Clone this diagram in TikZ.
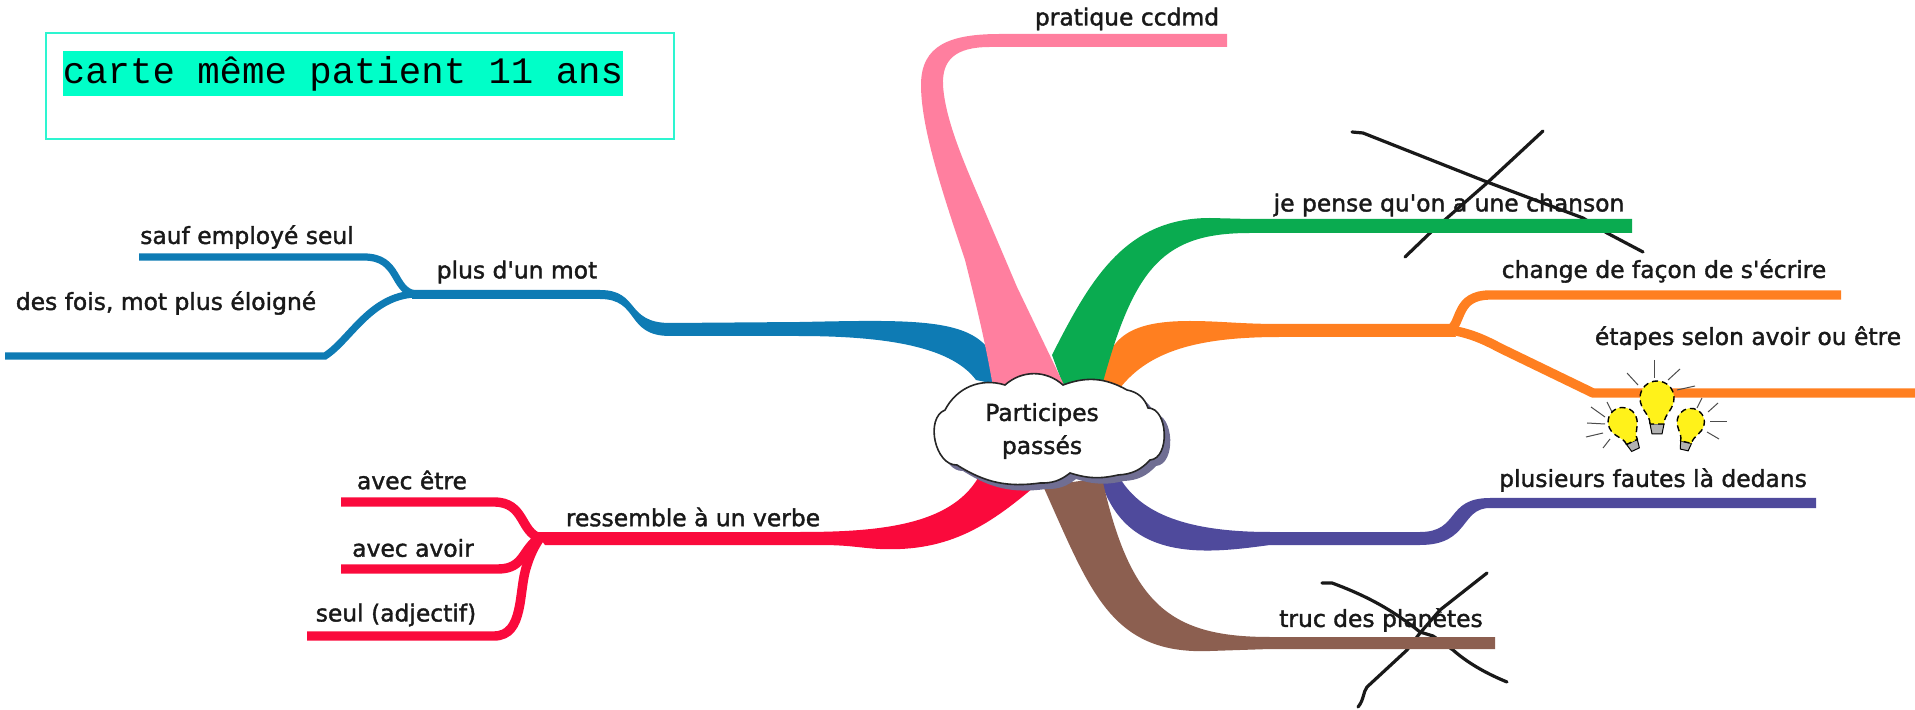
\documentclass[tikz,border=0pt]{standalone}
\usepackage{fontspec}
\newfontfamily\mapfont{DejaVu Sans}[FakeBold=1.6]
\newfontfamily\notefont{Liberation Mono}
\definecolor{mapblue}{HTML}{0E7BB4}
\definecolor{mappink}{HTML}{FF7F9F}
\definecolor{mapgreen}{HTML}{0AAB50}
\definecolor{maporange}{HTML}{FF7F20}
\definecolor{mappurple}{HTML}{4F4A9C}
\definecolor{mapbrown}{HTML}{8C5F50}
\definecolor{mapred}{HTML}{FA0A3C}
\definecolor{notemint}{HTML}{00FFC8}
\definecolor{noteline}{HTML}{2DF5D0}
\definecolor{bulbyellow}{HTML}{FFF21A}
\newcommand{\cloudoutline}{(945,410) to[bend left=40] (1005,385) to[bend left=42] (1063,385)
    to[bend left=25] (1127,390) to[bend left=30] (1148,408) to[bend left=88] (1150,460)
    to[bend left=22] (1118,475) to[bend left=15] (1070,473) to[bend left=20] (1040,483)
    to[bend left=20] (957,465) to[bend left=80] (945,410) -- cycle}

\begin{document}
\begin{tikzpicture}[
    x=0.5pt, y=-0.5pt,
    label/.style={inner sep=0pt, text=black!90, font=\mapfont\fontsize{11.7}{16.5}\selectfont},
    twig/.style={line width=3.6pt},
    twigwide/.style={line width=4.7pt},
    cross/.style={line width=1.6pt, line cap=round, line join=round, black!90},
    ray/.style={line width=0.5pt, black!70},
    bulb/.pic={
        \draw[line width=0.5pt, fill=black!30] (-7,22) -- (7,22) -- (5,32) -- (-5,32) -- cycle;
        \draw[line width=0.7pt, densely dashed, fill=bulbyellow] (-7,22)
            .. controls (-7,12) and (-17,8) .. (-17,-4)
            .. controls (-17,-14) and (-9,-21) .. (0,-21)
            .. controls (9,-21) and (17,-14) .. (17,-4)
            .. controls (17,8) and (7,12) .. (7,22) -- cycle;
    }]

        \useasboundingbox (0,0) rectangle (1915,710);

        \node[draw=noteline, line width=0.9pt, minimum width=314pt, minimum height=53pt, inner sep=0pt] (n_1) at (360,86) {};
        \node[fill=notemint, minimum width=280pt, minimum height=22.5pt, inner sep=0pt, font=\notefont\fontsize{18.67}{20}\selectfont] (n_2) at (343,73.5) {\raisebox{-1.3pt}{carte même patient 11 ans}};

        \draw[cross] (1352,132) -- (1363,133) -- (1487,182) -- (1583,218) -- (1607,233) -- (1643,252);
        \draw[cross] (1543,131) -- (1487,183) -- (1447,218) -- (1430,233) -- (1405,257);
        \draw[cross] (1322,583) -- (1332,583) .. controls (1370,597) and (1395,612) .. (1420,632) -- (1433,636)
            -- (1453,650) .. controls (1470,665) and (1490,675) .. (1507,682);
        \draw[cross] (1487,573) -- (1440,610) -- (1420,633) -- (1407,650) -- (1367,687) .. controls (1363,692) and (1364,700) .. (1358,707);

        \coordinate (j_1) at (415,294);
        \coordinate (e_1) at (139,257);
        \coordinate (e_2) at (5,356);
        \draw[twig, mapblue] (e_1) -- (364,257) .. controls (400,257) and (392,290) .. (j_1);
        \draw[twig, mapblue] (e_2) -- (325,356) .. controls (350,340) and (370,296) .. (j_1);
        \fill[mapblue] (412,290) -- (600,290) .. controls (640,290) and (625,323) .. (670,323) -- (800,322)
            .. controls (900,320) and (960,318) .. (985,345) -- (1000,385) -- (976,380)
            .. controls (950,345) and (880,336) .. (797,336) -- (670,336)
            .. controls (625,336) and (640,299) .. (600,299) -- (412,299) -- cycle;

        \coordinate (j_2) at (540,538);
        \coordinate (e_3) at (341,502);
        \coordinate (e_4) at (341,569);
        \coordinate (e_5) at (307,636);
        \draw[twigwide, mapred] (e_3) -- (494,502) .. controls (525,502) and (520,532) .. (j_2);
        \draw[twigwide, mapred] (e_4) -- (498,569) .. controls (525,569) and (522,548) .. (j_2);
        \draw[twigwide, mapred] (e_5) -- (494,636) .. controls (525,636) and (518,590) .. (527,565) .. controls (530,555) and (535,545) .. (j_2);
        \fill[mapred] (535,532) -- (800,532) .. controls (880,532) and (950,525) .. (978,478) -- (1040,482)
            .. controls (990,525) and (950,552) .. (880,549) .. controls (860,548) and (850,545) .. (820,545)
            -- (545,545) -- cycle;

        \coordinate (j_3) at (1450,330);
        \coordinate (e_6) at (1841,295);
        \coordinate (e_7) at (1915,393);
        \draw[twigwide, maporange] (e_6) -- (1490,295) .. controls (1456,295) and (1462,322) .. (j_3);
        \draw[twigwide, maporange, line join=round] (e_7) -- (1593,393) -- (1500,348) .. controls (1485,340) and (1470,333) .. (j_3);
        \fill[maporange] (1100,382) .. controls (1108,340) and (1125,321) .. (1190,321) .. controls (1220,321) and (1240,324) .. (1280,324)
            -- (1450,324) -- (1456,337) -- (1280,337) .. controls (1200,337) and (1150,350) .. (1120,388) -- cycle;

        \coordinate (e_8) at (1632,226);
        \fill[mapgreen] (e_8 |- 0,219) -- (1250,219) -- (1210,218) .. controls (1125,218) and (1090,280) .. (1052,355)
            -- (1063,385) -- (1103,382) .. controls (1135,265) and (1165,233) .. (1250,233) -- (e_8 |- 0,233) -- cycle;

        \coordinate (e_9) at (1816,503);
        \fill[mappurple] (e_9 |- 0,498) -- (1490,498) .. controls (1445,498) and (1460,532) .. (1420,532) -- (1270,532)
            .. controls (1170,532) and (1135,505) .. (1118,475) -- (1100,478)
            .. controls (1125,565) and (1210,553) .. (1270,545) -- (1420,545)
            .. controls (1470,545) and (1460,508) .. (1490,508) -- (e_9 |- 0,508) -- cycle;

        \coordinate (e_10) at (1495,643);
        \fill[mapbrown] (e_10 |- 0,637) -- (1270,637) .. controls (1170,637) and (1130,605) .. (1102,478) -- (1043,486)
            .. controls (1090,590) and (1110,655) .. (1210,651) -- (1270,649) -- (e_10 |- 0,649) -- cycle;

        \coordinate (e_11) at (1227,40);
        \fill[mappink] (e_11 |- 0,34) -- (1000,34) .. controls (950,34) and (921,45) .. (921,85)
            .. controls (921,130) and (945,200) .. (965,260) .. controls (975,300) and (985,340) .. (993,387)
            -- (1065,387) -- (1017,287) -- (983,207) .. controls (965,165) and (945,120) .. (943,85)
            .. controls (942,60) and (955,47) .. (990,47) -- (e_11 |- 0,47) -- cycle;

        \fill[mappurple!65!black!70, shift={(6,6)}] \cloudoutline;
        \draw[line width=0.8pt, fill=white, draw=black!85] \cloudoutline;
        \node[label, align=center] (c_1) at (1042,431) {Participes\\passés};

        \node[label] (l_1) at (1127,19) {pratique ccdmd};
        \node[label] (l_2) at (1449,205) {je pense qu'on a une chanson};
        \node[label] (l_3) at (1664,271) {change de façon de s'écrire};
        \node[label] (l_4) at (1748,338) {étapes selon avoir ou être};
        \node[label] (l_5) at (1653,480) {plusieurs fautes là dedans};
        \node[label] (l_6) at (1381,620) {truc des planètes};
        \node[label] (l_7) at (517,272) {plus d'un mot};
        \node[label] (l_8) at (247,237) {sauf employé seul};
        \node[label] (l_9) at (166,303) {des fois, mot plus éloigné};
        \node[label] (l_10) at (693,517) {ressemble à un verbe};
        \node[label] (l_11) at (412,480) {avec être};
        \node[label] (l_12) at (413,548) {avec avoir};
        \node[label] (l_13) at (396,615) {seul (adjectif)};

        \draw[ray] (1654,360) -- (1654,378);
        \draw[ray] (1627,373) -- (1638,385);
        \draw[ray] (1668,380) -- (1680,369);
        \draw[ray] (1677,390) -- (1695,386);
        \draw[ray] (1607,402) -- (1612,412);
        \draw[ray] (1591,407) -- (1605,417);
        \draw[ray] (1587,423) -- (1605,424);
        \draw[ray] (1586,437) -- (1603,433);
        \draw[ray] (1603,448) -- (1610,439);
        \draw[ray] (1697,408) -- (1702,398);
        \draw[ray] (1708,412) -- (1718,403);
        \draw[ray] (1710,422) -- (1727,422);
        \draw[ray] (1707,432) -- (1719,439);

        \pic[rotate=25, scale=0.85] at (1624,425) {bulb};
        \pic[rotate=-13, scale=0.8] at (1690,425) {bulb};
        \pic at (1657,402) {bulb};

    \end{tikzpicture}
\end{document}
